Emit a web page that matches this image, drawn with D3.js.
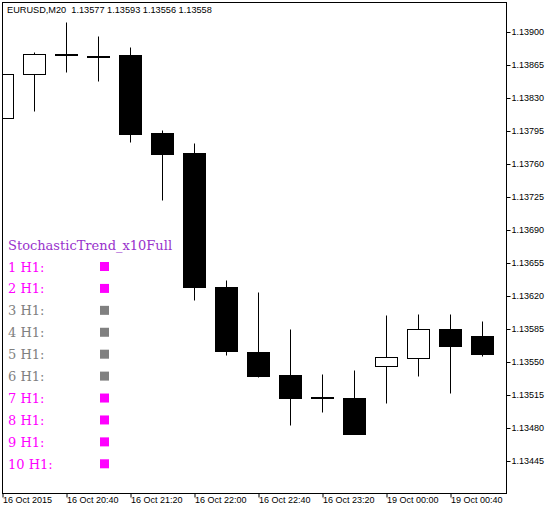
<!DOCTYPE html>
<html>
<head>
<meta charset="utf-8">
<script src="https://cdn.jsdelivr.net/npm/d3@7"></script>
<style>
  html, body { margin: 0; padding: 0; background: #fff; }
  svg { display: block; }
  .axis text { font-family: "Liberation Sans", Arial, sans-serif; font-size: 9px; fill: #000; }
  .axis line { stroke: #000; }
</style>
</head>
<body>
<svg id="chart" width="558" height="513"></svg>
<script>
/* globals d3 */
const WIDTH = 558;
const HEIGHT = 513;
const PLOT = { left: 2, top: 2, right: 506, bottom: 493 };
const BODY_HALF = 11;

const symbolTitle = 'EURUSD,M20  1.13577 1.13593 1.13556 1.13558';

// M20 bars, 16 Oct 2015 20:00 .. 19 Oct 2015 01:00
const barTimes = [
  '16.10 20:00', '16.10 20:20', '16.10 20:40', '16.10 21:00',
  '16.10 21:20', '16.10 21:40', '16.10 22:00', '16.10 22:20',
  '16.10 22:40', '16.10 23:00', '16.10 23:20', '16.10 23:40',
  '19.10 00:00', '19.10 00:20', '19.10 00:40', '19.10 01:00'
];
const opens = [1.13809, 1.13856, 1.13876, 1.13875, 1.13876, 1.13793, 1.13772, 1.13629,
  1.13560, 1.13536, 1.13512, 1.13512, 1.13546, 1.13554, 1.13585, 1.13577];
const highs = [1.13856, 1.13879, 1.13911, 1.13896, 1.13884, 1.13796, 1.13782, 1.13637,
  1.13624, 1.13585, 1.13537, 1.13541, 1.13600, 1.13601, 1.13601, 1.13593];
const lows = [1.13809, 1.13816, 1.13858, 1.13848, 1.13784, 1.13722, 1.13616, 1.13557,
  1.13534, 1.13483, 1.13497, 1.13473, 1.13506, 1.13535, 1.13517, 1.13556];
const closes = [1.13856, 1.13877, 1.13877, 1.13874, 1.13792, 1.13771, 1.13629, 1.13561,
  1.13535, 1.13512, 1.13513, 1.13473, 1.13555, 1.13585, 1.13567, 1.13558];

const priceTicks = [1.13900, 1.13865, 1.13830, 1.13795, 1.13760, 1.13725, 1.13690,
  1.13655, 1.13620, 1.13585, 1.13550, 1.13515, 1.13480, 1.13445];
const timeTickBars = ['16.10 20:00', '16.10 20:40', '16.10 21:20', '16.10 22:00',
  '16.10 22:40', '16.10 23:20', '19.10 00:00', '19.10 00:40'];
const timeTickLabels = ['16 Oct 2015', '16 Oct 20:40', '16 Oct 21:20', '16 Oct 22:00',
  '16 Oct 22:40', '16 Oct 23:20', '19 Oct 00:00', '19 Oct 00:40'];

const indicatorName = 'StochasticTrend_x10Full';
const legendLabels = ['1 H1:', '2 H1:', '3 H1:', '4 H1:', '5 H1:',
  '6 H1:', '7 H1:', '8 H1:', '9 H1:', '10 H1:'];
const legendSignals = [1, 1, 0, 0, 0, 0, 1, 1, 1, 1];
const signalColors = { 1: '#ff00ff', 0: '#808080' };

const bars = barTimes.map((t, i) => ({
  time: t, open: opens[i], high: highs[i], low: lows[i], close: closes[i]
}));

const svg = d3.select('#chart');
svg.append('rect').attr('width', WIDTH).attr('height', HEIGHT).attr('fill', '#fff');

const x = d3.scalePoint().domain(barTimes).range([2.5, 482.5]);
const y = d3.scaleLinear().domain([1.13445, 1.13900]).range([460.7, 32.3]);
const py = v => Math.round(y(v)) + 0.5;

svg.append('clipPath').attr('id', 'plotClip')
  .append('rect')
  .attr('x', PLOT.left).attr('y', PLOT.top)
  .attr('width', PLOT.right - PLOT.left).attr('height', PLOT.bottom - PLOT.top);

const candleLayer = svg.append('g').attr('clip-path', 'url(#plotClip)');
const candles = candleLayer.selectAll('.candle')
  .data(bars)
  .enter().append('g')
  .classed('candle', true);

candles.append('line')
  .attr('x1', d => x(d.time)).attr('x2', d => x(d.time))
  .attr('y1', d => py(d.high)).attr('y2', d => py(d.low))
  .attr('stroke', '#000').attr('stroke-width', 1);

candles.append('rect')
  .attr('x', d => x(d.time) - BODY_HALF)
  .attr('width', BODY_HALF * 2)
  .attr('y', d => py(Math.max(d.open, d.close)))
  .attr('height', d => Math.max(1, py(Math.min(d.open, d.close)) - py(Math.max(d.open, d.close))))
  .attr('fill', d => d.close > d.open ? '#fff' : '#000')
  .attr('stroke', '#000').attr('stroke-width', 1);

// frame
svg.append('rect')
  .attr('x', PLOT.left + 0.5).attr('y', PLOT.top + 0.5)
  .attr('width', PLOT.right - PLOT.left).attr('height', PLOT.bottom - PLOT.top)
  .attr('fill', 'none').attr('stroke', '#000');

// price axis
const yAxis = svg.append('g')
  .classed('axis', true)
  .attr('transform', `translate(${PLOT.right + 0.5},0)`)
  .call(d3.axisRight(y).tickValues(priceTicks).tickSize(4).tickPadding(1)
    .tickFormat(d3.format('.5f')));
yAxis.select('.domain').remove();
yAxis.selectAll('.tick').attr('transform', d => `translate(0,${py(d)})`);

// time axis
const xAxis = svg.append('g')
  .classed('axis', true)
  .attr('transform', `translate(0,${PLOT.bottom + 0.5})`)
  .call(d3.axisBottom(x).tickValues(timeTickBars).tickSize(4)
    .tickFormat((d, i) => timeTickLabels[i]));
xAxis.select('.domain').remove();
xAxis.selectAll('.tick text')
  .attr('text-anchor', 'start')
  .attr('x', 0)
  .attr('y', 3)
  .attr('dy', '0.71em');

// header
svg.append('text')
  .attr('x', 7).attr('y', 12.5)
  .attr('font-family', '"Liberation Sans", Arial, sans-serif')
  .attr('font-size', 9.2)
  .attr('fill', '#000')
  .attr('xml:space', 'preserve')
  .style('white-space', 'pre')
  .text(symbolTitle);

// indicator legend
const legend = svg.append('g').attr('font-family', '"DejaVu Serif", "Liberation Serif", serif');
legend.append('text')
  .attr('x', 8).attr('y', 250)
  .attr('font-size', 13)
  .attr('fill', '#9932cc')
  .text(indicatorName);

const rowY = d3.scaleLinear().domain([0, 9]).range([266.5, 463.8]);
const rows = legend.selectAll('.row')
  .data(legendLabels)
  .enter().append('g')
  .classed('row', true)
  .attr('transform', (d, i) => `translate(0,${rowY(i)})`);
rows.append('text')
  .attr('x', 8).attr('y', 5)
  .attr('font-size', 13)
  .attr('fill', (d, i) => signalColors[legendSignals[i]])
  .text(d => d);
rows.append('rect')
  .attr('x', 100).attr('y', -4.5)
  .attr('width', 9).attr('height', 9)
  .attr('fill', (d, i) => signalColors[legendSignals[i]]);
</script>
</body>
</html>
